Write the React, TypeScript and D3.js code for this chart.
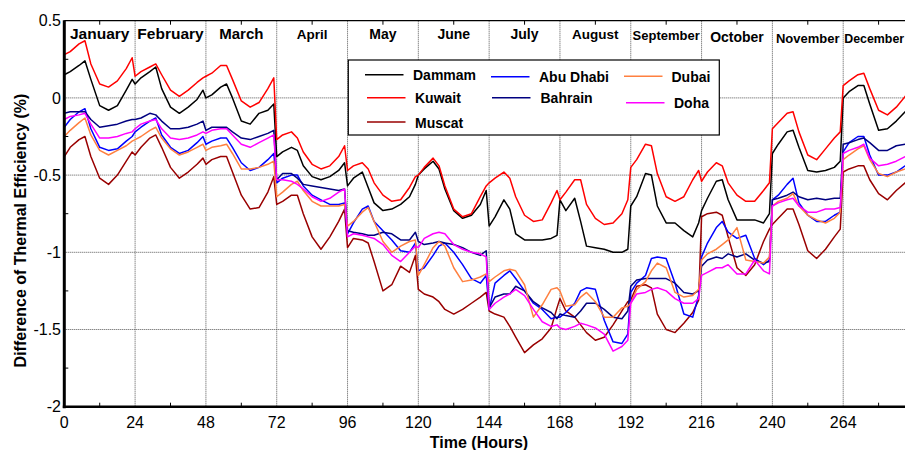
import React from "react";
import * as d3 from "d3";

const MONTHS = ["January","February","March","April","May","June","July","August","September","October","November","December"];
const HOURS = [0, 2, 5, 7, 9, 12, 15, 18, 21, 23];
const X_TICKS = [0, 24, 48, 72, 96, 120, 144, 168, 192, 216, 240, 264];
const Y_TICKS = [0.5, 0, -0.5, -1, -1.5, -2];

const dammam = [
  [0.15,0.17,0.21,0.24,0.12,-0.05,-0.08,-0.05,0.05,0.12],
  [0.09,0.13,0.17,0.20,0.06,-0.06,-0.10,-0.06,-0.01,0.05],
  [0.0,0.02,0.07,0.09,0.0,-0.15,-0.17,-0.10,-0.08,-0.04],
  [-0.38,-0.35,-0.32,-0.34,-0.44,-0.51,-0.53,-0.51,-0.47,-0.42],
  [-0.57,-0.52,-0.48,-0.58,-0.68,-0.73,-0.72,-0.69,-0.64,-0.56],
  [-0.50,-0.46,-0.41,-0.46,-0.59,-0.73,-0.78,-0.76,-0.69,-0.60],
  [-0.83,-0.77,-0.66,-0.72,-0.88,-0.92,-0.92,-0.92,-0.91,-0.89],
  [-0.66,-0.73,-0.65,-0.80,-0.96,-0.97,-0.98,-1.00,-1.00,-0.98],
  [-0.70,-0.64,-0.49,-0.50,-0.70,-0.81,-0.81,-0.86,-0.90,-0.81],
  [-0.73,-0.65,-0.54,-0.53,-0.66,-0.79,-0.79,-0.79,-0.81,-0.75],
  [-0.36,-0.30,-0.22,-0.21,-0.32,-0.47,-0.48,-0.47,-0.45,-0.41],
  [0.00,0.04,0.08,0.08,-0.04,-0.21,-0.20,-0.15,-0.09,-0.06],
];
const kuwait = [
  [0.28,0.30,0.35,0.37,0.22,0.09,0.07,0.11,0.19,0.26],
  [0.14,0.17,0.20,0.22,0.15,0.05,0.01,0.05,0.10,0.13],
  [0.14,0.16,0.21,0.21,0.12,-0.02,-0.06,-0.03,0.06,0.13],
  [-0.27,-0.24,-0.22,-0.26,-0.35,-0.43,-0.46,-0.44,-0.38,-0.31],
  [-0.47,-0.44,-0.42,-0.46,-0.55,-0.63,-0.67,-0.66,-0.58,-0.51],
  [-0.50,-0.45,-0.39,-0.44,-0.57,-0.72,-0.77,-0.75,-0.64,-0.57],
  [-0.55,-0.52,-0.48,-0.52,-0.64,-0.76,-0.80,-0.79,-0.68,-0.60],
  [-0.66,-0.61,-0.53,-0.53,-0.69,-0.78,-0.82,-0.81,-0.75,-0.66],
  [-0.45,-0.40,-0.30,-0.31,-0.49,-0.64,-0.67,-0.64,-0.53,-0.47],
  [-0.54,-0.48,-0.42,-0.44,-0.55,-0.63,-0.67,-0.67,-0.60,-0.55],
  [-0.20,-0.16,-0.10,-0.09,-0.22,-0.37,-0.40,-0.33,-0.26,-0.22],
  [0.08,0.11,0.15,0.16,0.06,-0.08,-0.11,-0.06,0.01,0.05],
];
const muscat = [
  [-0.38,-0.32,-0.27,-0.25,-0.38,-0.52,-0.56,-0.50,-0.41,-0.35],
  [-0.37,-0.32,-0.26,-0.24,-0.32,-0.45,-0.52,-0.48,-0.43,-0.39],
  [-0.43,-0.40,-0.38,-0.38,-0.48,-0.63,-0.72,-0.71,-0.61,-0.51],
  [-0.69,-0.67,-0.63,-0.63,-0.75,-0.90,-0.98,-0.90,-0.80,-0.72],
  [-0.97,-0.91,-0.92,-0.94,-1.06,-1.25,-1.21,-1.09,-1.13,-1.02],
  [-1.24,-1.27,-1.29,-1.32,-1.37,-1.40,-1.37,-1.33,-1.29,-1.26],
  [-1.38,-1.40,-1.42,-1.48,-1.55,-1.65,-1.60,-1.56,-1.49,-1.36],
  [-1.30,-1.38,-1.42,-1.47,-1.52,-1.57,-1.55,-1.47,-1.38,-1.32],
  [-1.31,-1.22,-1.21,-1.23,-1.40,-1.50,-1.52,-1.46,-1.39,-1.31],
  [-0.77,-0.75,-0.74,-0.76,-0.90,-1.10,-1.15,-1.08,-0.93,-0.85],
  [-0.82,-0.78,-0.72,-0.72,-0.82,-0.99,-1.04,-0.98,-0.90,-0.85],
  [-0.48,-0.46,-0.44,-0.44,-0.53,-0.62,-0.66,-0.60,-0.55,-0.53],
];
const abuDhabi = [
  [-0.19,-0.14,-0.09,-0.07,-0.20,-0.32,-0.34,-0.33,-0.28,-0.25],
  [-0.22,-0.19,-0.15,-0.13,-0.24,-0.32,-0.36,-0.34,-0.29,-0.25],
  [-0.30,-0.28,-0.26,-0.26,-0.32,-0.42,-0.47,-0.45,-0.40,-0.36],
  [-0.55,-0.52,-0.50,-0.50,-0.57,-0.63,-0.66,-0.69,-0.69,-0.68],
  [-0.88,-0.81,-0.72,-0.70,-0.80,-0.86,-0.92,-0.99,-1.00,-0.94],
  [-1.12,-1.10,-1.02,-0.96,-0.94,-1.00,-1.08,-1.17,-1.20,-1.15],
  [-1.37,-1.20,-1.15,-1.12,-1.17,-1.25,-1.33,-1.37,-1.43,-1.42],
  [-1.42,-1.39,-1.33,-1.25,-1.23,-1.24,-1.44,-1.58,-1.59,-1.53],
  [-1.26,-1.20,-1.15,-1.04,-1.03,-1.04,-1.20,-1.40,-1.42,-1.28],
  [-1.03,-0.94,-0.84,-0.80,-0.87,-0.91,-0.89,-1.04,-1.08,-1.05],
  [-0.66,-0.63,-0.56,-0.52,-0.68,-0.76,-0.80,-0.80,-0.76,-0.74],
  [-0.35,-0.29,-0.25,-0.25,-0.37,-0.50,-0.50,-0.48,-0.44,-0.40],
];
const bahrain = [
  [-0.10,-0.09,-0.09,-0.09,-0.14,-0.19,-0.18,-0.17,-0.15,-0.14],
  [-0.14,-0.13,-0.10,-0.11,-0.15,-0.20,-0.20,-0.19,-0.17,-0.15],
  [-0.21,-0.19,-0.19,-0.19,-0.22,-0.26,-0.27,-0.25,-0.23,-0.21],
  [-0.53,-0.49,-0.49,-0.52,-0.56,-0.57,-0.58,-0.59,-0.60,-0.59],
  [-0.86,-0.87,-0.88,-0.89,-0.89,-0.87,-0.88,-0.92,-0.92,-0.87],
  [-0.93,-0.95,-0.94,-0.93,-0.94,-0.95,-0.97,-1.00,-1.02,-0.99],
  [-1.36,-1.29,-1.27,-1.27,-1.22,-1.25,-1.32,-1.36,-1.39,-1.43],
  [-1.40,-1.41,-1.42,-1.38,-1.33,-1.33,-1.37,-1.42,-1.43,-1.38],
  [-1.22,-1.18,-1.17,-1.17,-1.17,-1.17,-1.20,-1.26,-1.27,-1.25],
  [-1.09,-1.05,-1.03,-1.04,-1.01,-1.03,-1.01,-1.05,-1.07,-1.06],
  [-0.66,-0.65,-0.63,-0.61,-0.64,-0.66,-0.65,-0.66,-0.65,-0.65],
  [-0.30,-0.29,-0.27,-0.26,-0.29,-0.34,-0.34,-0.31,-0.30,-0.30],
];
const dubai = [
  [-0.25,-0.21,-0.16,-0.13,-0.24,-0.34,-0.37,-0.34,-0.31,-0.28],
  [-0.27,-0.25,-0.21,-0.19,-0.26,-0.33,-0.37,-0.35,-0.32,-0.30],
  [-0.34,-0.32,-0.31,-0.30,-0.36,-0.46,-0.46,-0.45,-0.43,-0.41],
  [-0.64,-0.61,-0.56,-0.54,-0.60,-0.67,-0.70,-0.70,-0.70,-0.69],
  [-0.83,-0.80,-0.74,-0.71,-0.80,-0.93,-1.00,-0.96,-0.93,-0.92],
  [-1.15,-1.08,-0.97,-0.93,-0.96,-1.10,-1.19,-1.18,-1.16,-1.14],
  [-1.19,-1.16,-1.12,-1.11,-1.12,-1.21,-1.42,-1.34,-1.24,-1.23],
  [-1.25,-1.35,-1.34,-1.29,-1.26,-1.32,-1.42,-1.42,-1.36,-1.35],
  [-1.33,-1.24,-1.19,-1.12,-1.07,-1.10,-1.26,-1.29,-1.28,-1.24],
  [-1.05,-1.01,-0.98,-0.95,-0.92,-0.84,-1.05,-1.06,-1.07,-1.03],
  [-0.70,-0.67,-0.65,-0.62,-0.70,-0.76,-0.79,-0.81,-0.78,-0.74],
  [-0.40,-0.37,-0.33,-0.31,-0.40,-0.49,-0.51,-0.48,-0.46,-0.44],
];
const doha = [
  [-0.14,-0.12,-0.11,-0.10,-0.17,-0.26,-0.26,-0.25,-0.23,-0.22],
  [-0.20,-0.17,-0.15,-0.14,-0.20,-0.26,-0.27,-0.26,-0.24,-0.22],
  [-0.23,-0.21,-0.20,-0.20,-0.24,-0.30,-0.32,-0.29,-0.26,-0.24],
  [-0.53,-0.53,-0.54,-0.56,-0.59,-0.64,-0.67,-0.65,-0.61,-0.59],
  [-0.90,-0.88,-0.89,-0.90,-0.91,-0.95,-1.02,-1.06,-1.00,-0.96],
  [-0.97,-0.91,-0.88,-0.87,-0.88,-0.95,-0.98,-1.00,-1.01,-1.03],
  [-1.37,-1.33,-1.29,-1.27,-1.24,-1.28,-1.37,-1.45,-1.48,-1.47],
  [-1.49,-1.50,-1.48,-1.46,-1.47,-1.49,-1.53,-1.64,-1.61,-1.57],
  [-1.33,-1.27,-1.26,-1.24,-1.23,-1.25,-1.30,-1.33,-1.33,-1.30],
  [-1.15,-1.13,-1.10,-1.10,-1.08,-1.14,-1.14,-1.05,-1.12,-1.14],
  [-0.70,-0.68,-0.66,-0.65,-0.70,-0.74,-0.74,-0.72,-0.72,-0.71],
  [-0.36,-0.34,-0.32,-0.30,-0.39,-0.44,-0.43,-0.41,-0.38,-0.36],
];

const SERIES = [
  { name: "Dammam", color: "#000000", values: dammam },
  { name: "Kuwait", color: "#ff0000", values: kuwait },
  { name: "Muscat", color: "#990000", values: muscat },
  { name: "Abu Dhabi", color: "#0000ff", values: abuDhabi },
  { name: "Bahrain", color: "#000080", values: bahrain },
  { name: "Dubai", color: "#ff8040", values: dubai },
  { name: "Doha", color: "#ff00ff", values: doha },
];

// styling only (not data)
const MONTH_FONT = [15.5, 15.5, 15, 13.5, 14, 14, 14, 13.5, 13, 14, 13, 12.4];
const MONTH_BASE = [39, 39, 39, 38.5, 38.5, 39, 38.5, 39, 40, 41.5, 42.5, 42.5];
const LEGEND_POS = [
  { lx: 365, ly: 74.7, tx: 413, ty: 80 },
  { lx: 367, ly: 97.7, tx: 415, ty: 103 },
  { lx: 367, ly: 122, tx: 415, ty: 127.5 },
  { lx: 491, ly: 76.7, tx: 539, ty: 82 },
  { lx: 492, ly: 97.7, tx: 540.5, ty: 103 },
  { lx: 624, ly: 76.3, tx: 671.5, ty: 82 },
  { lx: 626, ly: 102.7, tx: 674, ty: 108 },
];

const FONT = "'Liberation Sans', Arial, Helvetica, sans-serif";

export default function App() {
  const W = 905, H = 450;
  const x = d3.scaleLinear().domain([0, 288]).range([64.3, 914]);
  const y = d3.scaleLinear().domain([-2, 0.5]).range([406.7, 20.7]);
  const left = x(0), right = W, top = y(0.5), bottom = y(-2);

  const line = d3
    .line<{ h: number; v: number }>()
    .x((d) => x(d.h))
    .y((d) => y(d.v));

  const seriesPts = SERIES.map((s) =>
    s.values.flatMap((row, m) => row.map((v, i) => ({ h: 24 * m + HOURS[i], v })))
  );

  const minorX = d3.range(12, 288, 24);
  const minorY = d3.range(-1.75, 0.5, 0.5);

  return (
    <svg
      width={W}
      height={H}
      style={{ position: "absolute", left: 0, top: 0, background: "#fff" }}
      fontFamily={FONT}
    >
      <rect x={0} y={0} width={W} height={H} fill="#fff" />
      <defs>
        <clipPath id="plotclip">
          <rect x={left} y={top} width={right - left} height={bottom - top} />
        </clipPath>
      </defs>

      {/* grid */}
      {X_TICKS.filter((t) => t > 0).map((t) => (
        <line key={"gx" + t} x1={x(t)} x2={x(t)} y1={top} y2={bottom}
          stroke="#555" strokeWidth={1} strokeDasharray="1,1" />
      ))}
      {Y_TICKS.filter((t) => t < 0.5 && t > -2).map((t) => (
        <line key={"gy" + t} x1={left} x2={right} y1={y(t)} y2={y(t)}
          stroke="#555" strokeWidth={1} strokeDasharray="1,1" />
      ))}

      {/* month labels */}
      {MONTHS.map((m, i) => {
        const last = i === MONTHS.length - 1;
        return (
          <text key={m}
            x={last ? x(24 * i) + 1 : (x(24 * i) + x(24 * i + 24)) / 2}
            y={MONTH_BASE[i]}
            textAnchor={last ? "start" : "middle"}
            fontWeight="bold" fontSize={MONTH_FONT[i]} fill="#000">
            {m}
          </text>
        );
      })}

      {/* legend box */}
      <rect x={348.3} y={60} width={371} height={75} fill="#fff" stroke="#000" strokeWidth={1.2} />
      {SERIES.map((s, i) => {
        const p = LEGEND_POS[i];
        return (
          <g key={"lg" + s.name}>
            <line x1={p.lx} x2={p.lx + 38.5} y1={p.ly} y2={p.ly} stroke={s.color} strokeWidth={1.5} />
            <text x={p.tx} y={p.ty} fontWeight="bold" fontSize={14} fill="#000">{s.name}</text>
          </g>
        );
      })}

      {/* series */}
      <g clipPath="url(#plotclip)">
        {SERIES.map((s, i) => (
          <path key={s.name} d={line(seriesPts[i]) || ""} fill="none"
            stroke={s.color} strokeWidth={1.5} strokeLinejoin="round" />
        ))}
      </g>

      {/* minor ticks */}
      {minorX.map((t) => (
        <g key={"mx" + t}>
          <line x1={x(t)} x2={x(t)} y1={bottom} y2={bottom - 4} stroke="#000" strokeWidth={1} />
          <line x1={x(t)} x2={x(t)} y1={top} y2={top + 4} stroke="#000" strokeWidth={1} />
        </g>
      ))}
      {minorY.map((t) => (
        <line key={"my" + t} x1={left} x2={left + 4} y1={y(t)} y2={y(t)} stroke="#000" strokeWidth={1} />
      ))}

      {/* frame */}
      <line x1={left} x2={right} y1={top} y2={top} stroke="#000" strokeWidth={1.3} />
      <line x1={left} x2={left} y1={top - 0.5} y2={bottom + 1.5} stroke="#000" strokeWidth={3} />
      <line x1={left - 1.5} x2={right} y1={bottom} y2={bottom} stroke="#000" strokeWidth={2.6} />

      {/* tick labels */}
      {Y_TICKS.map((t) => (
        <text key={"yl" + t} x={61} y={y(t)} dy="0.36em" textAnchor="end" fontSize={16} fill="#000">
          {t}
        </text>
      ))}
      {X_TICKS.map((t) => (
        <text key={"xl" + t} x={x(t)} y={428.3} textAnchor="middle" fontSize={16} fill="#000">
          {t}
        </text>
      ))}

      {/* axis titles */}
      <text x={479} y={448.3} textAnchor="middle" fontWeight="bold" fontSize={16} fill="#000">
        Time (Hours)
      </text>
      <text transform="translate(25.5,230.5) rotate(-90)" textAnchor="middle" fontWeight="bold" fontSize={16} fill="#000">
        Difference of Thermal Efficiency (%)
      </text>
    </svg>
  );
}
